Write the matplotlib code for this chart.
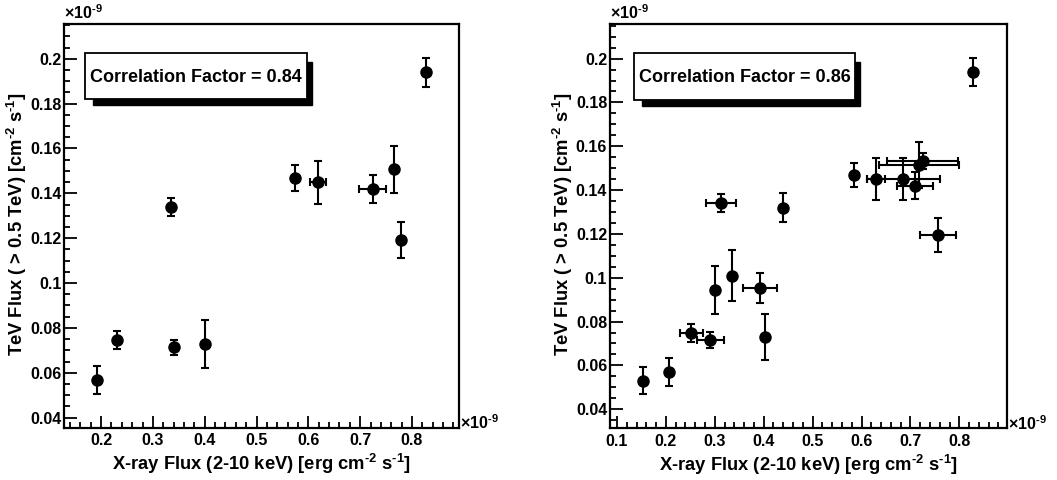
import matplotlib
matplotlib.use("Agg")
import matplotlib.pyplot as plt
from matplotlib.patches import Rectangle
from matplotlib.ticker import MultipleLocator, FuncFormatter

plt.rcParams["font.family"] = ["Liberation Sans", "DejaVu Sans"]
plt.rcParams["font.weight"] = "bold"
plt.rcParams["mathtext.fontset"] = "custom"
plt.rcParams["mathtext.rm"] = "Liberation Sans:bold"
plt.rcParams["mathtext.bf"] = "Liberation Sans:bold"
plt.rcParams["mathtext.default"] = "bf"

# --- data (units of 1e-9) ---
# left panel
x_left = [0.193, 0.2315, 0.341, 0.4014, 0.3345, 0.574, 0.6183, 0.7245, 0.765, 0.7779, 0.8268]
xerr_left = [0, 0, 0, 0, 0, 0, 0.0154, 0.0258, 0, 0, 0]
y_left = [0.0568, 0.0745, 0.0714, 0.0729, 0.1339, 0.1468, 0.1449, 0.1419, 0.1508, 0.1192, 0.1939]
yerr_left = [0.0063, 0.0039, 0.0034, 0.0107, 0.0040, 0.0058, 0.0097, 0.0063, 0.0105, 0.0080, 0.0066]
corr_left = 0.84

# right panel
x_right = [0.1525, 0.2057, 0.252, 0.2908, 0.301, 0.3358, 0.3924, 0.402, 0.3133,
           0.4395, 0.5847, 0.6297, 0.6855, 0.7094, 0.7176, 0.7252, 0.7564, 0.828]
xerr_right = [0, 0, 0.0235, 0.028, 0, 0, 0.035, 0, 0.031,
              0, 0, 0.018, 0.075, 0.036, 0.081, 0.073, 0.036, 0]
y_right = [0.053, 0.0569, 0.0747, 0.0716, 0.0944, 0.101, 0.0952, 0.073, 0.134,
           0.132, 0.1469, 0.1451, 0.1451, 0.142, 0.1515, 0.1533, 0.1194, 0.1939]
yerr_right = [0.0062, 0.0063, 0.0040, 0.0035, 0.0110, 0.0118, 0.0068, 0.0105, 0.0040,
              0.0067, 0.0056, 0.0097, 0.0094, 0.0062, 0.0105, 0.0035, 0.0078, 0.0066]
corr_right = 0.86

panels = [
    dict(x=x_left, xerr=xerr_left, y=y_left, yerr=yerr_left, corr=corr_left,
         rect=[0.0608, 0.109, 0.3731, 0.841], xlim=(0.129, 0.890), ylim=(0.0355, 0.2155),
         box=(0.0525, 0.8135, 0.5621, 0.1155)),
    dict(x=x_right, xerr=xerr_right, y=y_right, yerr=yerr_right, corr=corr_right,
         rect=[0.5771, 0.1077, 0.3756, 0.8423], xlim=(0.0857, 0.8975), ylim=(0.0313, 0.2158),
         box=(0.0612, 0.812, 0.5552, 0.117)),
]

fmt = FuncFormatter(lambda v, pos: f"{v:g}")

fig = plt.figure(figsize=(10.57, 4.8), dpi=100)

for p in panels:
    ax = fig.add_axes(p["rect"])
    ax.errorbar(p["x"], p["y"], xerr=p["xerr"], yerr=p["yerr"], fmt="o", color="black",
                ms=8, elinewidth=1.5, capsize=3, capthick=1.5)
    ax.set_xlim(*p["xlim"])
    ax.set_ylim(*p["ylim"])

    # ROOT-like frame and ticks
    for s in ax.spines.values():
        s.set_linewidth(1.6)
    ax.xaxis.set_major_locator(MultipleLocator(0.1))
    ax.xaxis.set_minor_locator(MultipleLocator(0.02))
    ax.yaxis.set_major_locator(MultipleLocator(0.02))
    ax.yaxis.set_minor_locator(MultipleLocator(0.005))
    ax.xaxis.set_major_formatter(fmt)
    ax.yaxis.set_major_formatter(fmt)
    ax.tick_params(which="both", direction="in", top=False, right=False, width=1.3)
    ax.tick_params(which="major", length=9, labelsize=11.5, pad=4)
    ax.tick_params(which="minor", length=4.5)
    ax.tick_params(axis="y", pad=2)
    for lab in ax.get_xticklabels() + ax.get_yticklabels():
        lab.set_fontweight("bold")

    ax.set_xlabel(r"X-ray Flux (2-10 keV) [erg cm$^{\text{-}2}$ s$^{\text{-}1}$]",
                  fontsize=13.2, fontweight="bold")
    ax.set_ylabel(r"TeV Flux ( > 0.5 TeV) [cm$^{\text{-}2}$ s$^{\text{-}1}$]",
                  fontsize=13.2, fontweight="bold")
    ax.xaxis.set_label_coords(0.5, -0.09)
    ax.xaxis.label.set_va("center")
    ax.yaxis.set_label_coords(-0.119, 0.505)
    ax.yaxis.label.set_va("center")

    # exponent labels
    ax.text(0.0, 1.005, r"$\times$10$^{\text{-}9}$", transform=ax.transAxes, ha="left",
            va="bottom", fontsize=11.5, fontweight="bold")
    ax.text(1.003, 0.012, r"$\times$10$^{\text{-}9}$", transform=ax.transAxes, ha="left",
            va="center", fontsize=11.5, fontweight="bold")

    # correlation box with shadow
    bx, by, bw, bh = p["box"]
    ax.add_patch(Rectangle((bx + 0.02, by - 0.015), bw - 0.007, bh - 0.007, transform=ax.transAxes,
                           facecolor="black", edgecolor="black", zorder=4))
    ax.add_patch(Rectangle((bx, by), bw, bh, transform=ax.transAxes,
                           facecolor="white", edgecolor="black", linewidth=1.3, zorder=5))
    ax.text(bx + bw / 2, by + bh / 2 - 0.004, f"Correlation Factor = {p['corr']:.2f}",
            transform=ax.transAxes, ha="center", va="center", fontsize=13,
            fontweight="bold", zorder=6)

fig.savefig("out.png", dpi=100, facecolor="white")
